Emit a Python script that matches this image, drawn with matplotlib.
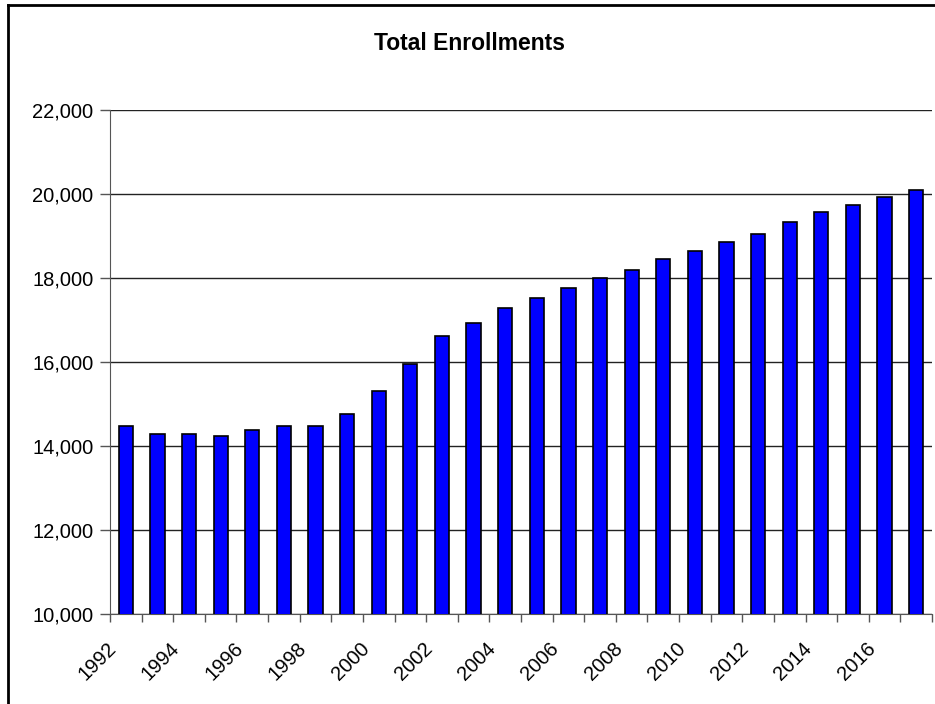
import matplotlib
matplotlib.use("Agg")
import matplotlib.pyplot as plt
from matplotlib.lines import Line2D
from matplotlib.ticker import FuncFormatter, FixedLocator
from matplotlib.transforms import ScaledTranslation
import numpy as np

years = list(range(1992, 2018))
enrollments = [14480, 14280, 14280, 14240, 14370, 14480, 14480, 14770, 15300,
               15960, 16630, 16920, 17290, 17520, 17760, 18010, 18200,
               18450, 18650, 18850, 19050, 19330, 19570, 19730, 19930, 20090]
title = "Total Enrollments"
yticks = [10000, 12000, 14000, 16000, 18000, 20000, 22000]

plt.rcParams['font.family'] = ['Liberation Sans', 'DejaVu Sans']

W, H = 935, 704
fig = plt.figure(figsize=(W / 100, H / 100), dpi=100)
ax = fig.add_axes([110 / W, 1 - 614 / H, (932 - 110) / W, (614 - 110) / H])

x = np.arange(len(years))
ax.bar(x, enrollments, width=0.45, color='#0000FF', edgecolor='black',
       linewidth=1.2, zorder=3)

ax.set_xlim(-0.5, len(years) - 0.5)
ax.set_ylim(10000, 22000)
ax.set_yticks(yticks)
ax.yaxis.set_major_formatter(FuncFormatter(lambda v, p: f"{int(v):,}"))
ax.grid(axis='y', color='#222222', linewidth=1.0, zorder=0)
ax.tick_params(axis='y', length=7, width=1, labelsize=14.5, pad=5, color='#555555')

# category boundary ticks
ax.xaxis.set_major_locator(FixedLocator(np.arange(-0.5, len(years), 1.0)))
ax.xaxis.set_major_formatter(FuncFormatter(lambda v, p: ""))
ax.tick_params(axis='x', which='major', length=6, width=1, color='#555555')
# labels at every other bar
lab_pos = x[::2]
ax.xaxis.set_minor_locator(FixedLocator(lab_pos))
ax.set_xticklabels([str(years[i]) for i in lab_pos], minor=True)
ax.tick_params(axis='x', which='minor', length=0, labelsize=14.5, pad=18)
shift = ScaledTranslation(-19 / 100, 0, fig.dpi_scale_trans)
for lbl in ax.get_xticklabels(minor=True):
    lbl.set_rotation(45)
    lbl.set_ha('right')
    lbl.set_rotation_mode('anchor')
    lbl.set_transform(lbl.get_transform() + shift)

for s in ['top', 'right']:
    ax.spines[s].set_visible(False)
ax.spines['left'].set_color('#555555')
ax.spines['bottom'].set_color('#555555')

fig.text(469 / W, 1 - 44 / H, title, ha='center', va='center', fontsize=16.5,
         fontweight='bold')

# outer chart border
bx0, by0 = 8 / W, 1 - 5 / H
fig.add_artist(Line2D([bx0, bx0], [0, by0], color='black', lw=2, transform=fig.transFigure))
fig.add_artist(Line2D([bx0, 1.0], [by0, by0], color='black', lw=2, transform=fig.transFigure))

fig.savefig("out.png", dpi=100)
